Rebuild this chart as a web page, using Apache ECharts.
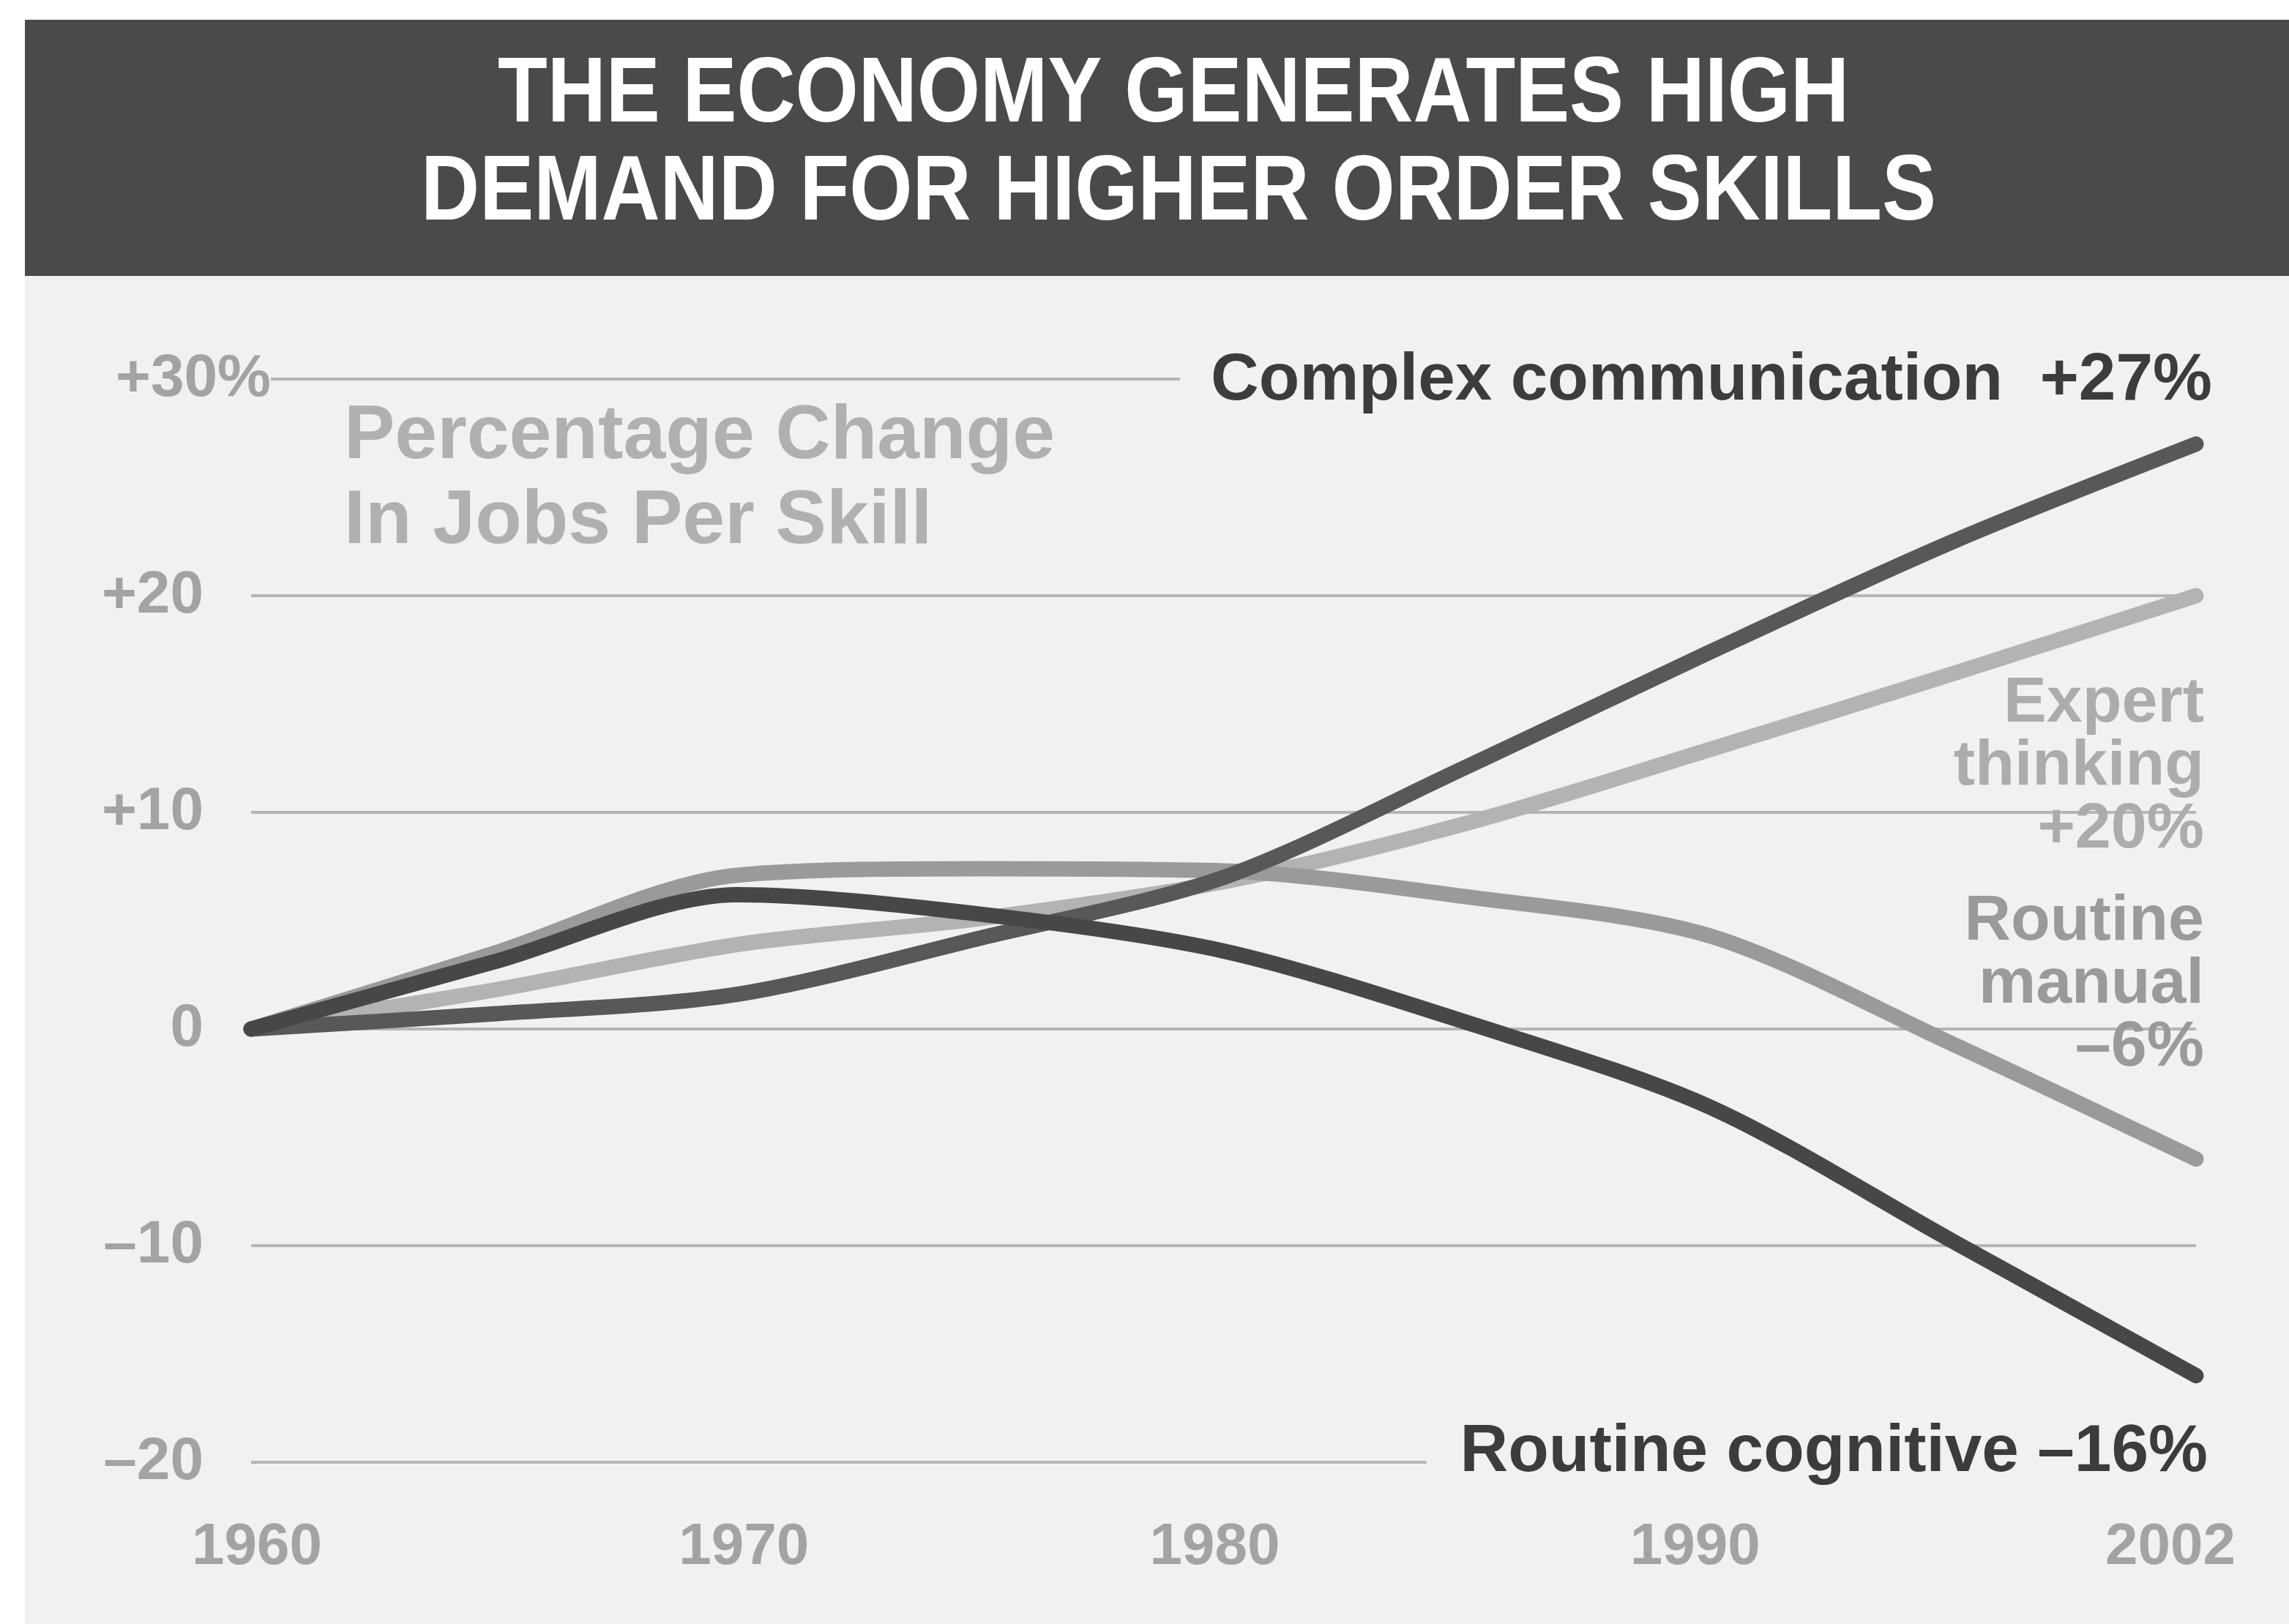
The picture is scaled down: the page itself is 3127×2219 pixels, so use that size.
<!DOCTYPE html>
<html>
<head>
<meta charset="utf-8">
<script src="https://cdn.jsdelivr.net/npm/echarts@6/dist/echarts.min.js"></script>
<style>
  html, body { margin: 0; padding: 0; background: #ffffff; }
  #chart { width: 3127px; height: 2219px; }
</style>
</head>
<body>
<div id="chart"></div>
<script>
// Half-decade sample points; only the decade years (and 2002) carry tick labels.
const years = ['1960', '1965', '1970', '1975', '1980', '1985', '1990', '1996', '2002'];
const labelledYears = ['1960', '1970', '1980', '1990', '2002'];

// Percentage change in jobs per skill, relative to 1960.
const complexCommunication = [0, 0.7, 1.6, 4.2, 7.0, 12.1, 17.4, 22.5, 27];
const expertThinking       = [0, 1.8, 3.9, 5.1, 6.8, 9.5, 12.9, 16.4, 20];
const routineManual        = [0, 3.5, 7.1, 7.4, 7.3, 6.1, 4.3, -0.7, -6];
const routineCognitive     = [0, 3.1, 6.2, 5.3, 3.6, 0.3, -3.6, -9.8, -16];

const yTicks = [-20, -10, 0, 10, 20, 30];
const yTickLabels = ['–20', '–10', '0', '+10', '+20', '+30%'];

const titleLines = ['THE ECONOMY GENERATES HIGH', 'DEMAND FOR HIGHER ORDER SKILLS'];
const subtitle = 'Percentage Change\nIn Jobs Per Skill';

const last = arr => arr[arr.length - 1];
const signed = v => (v > 0 ? '+' : v < 0 ? '–' : '') + Math.abs(v);

const FONT = '"Liberation Sans", Arial, sans-serif';
const PAGE_BG = '#f1f1f1';
const C_CC = '#585858', C_RC = '#474747', C_RM = '#9a9a9a', C_ET = '#b3b3b3';
const TICK_GREY = '#a3a3a3';

const chart = echarts.init(document.getElementById('chart'), null, { renderer: 'canvas' });

// small horizontal nudges for the year labels under the axis
const yearPad = {
  '1960': [0, 0, 0, 16], '1970': [0, 0, 0, 18], '1980': [0, 24, 0, 0],
  '1990': [0, 40, 0, 0], '2002': [0, 70, 0, 0]
};
const yearRich = {};
labelledYears.forEach((y, i) => { yearRich['y' + i] = { padding: yearPad[y] }; });

function lineSeries(name, data, color, z) {
  return {
    name, type: 'line', data, z,
    smooth: 0.3, symbol: 'none', silent: true,
    lineStyle: { color, width: 21, cap: 'round', join: 'round' },
    emphasis: { disabled: true }
  };
}

const tickFont = { fontFamily: FONT, fontWeight: 'bold', fontSize: 82, color: TICK_GREY };

chart.setOption({
  animation: false,
  backgroundColor: PAGE_BG,
  grid: { left: 343, right: 116, top: 518, bottom: 221, containLabel: false },
  xAxis: {
    type: 'category',
    data: years,
    boundaryGap: false,
    axisLine: { show: false },
    axisTick: { show: false },
    splitLine: { show: false },
    axisLabel: {
      interval: (idx, val) => labelledYears.includes(val),
      formatter: (val) => '{y' + labelledYears.indexOf(val) + '|' + val + '}',
      rich: yearRich,
      color: TICK_GREY,
      fontFamily: FONT, fontWeight: 'bold', fontSize: 80, lineHeight: 80,
      margin: 77
    }
  },
  yAxis: {
    type: 'value',
    min: -20, max: 30, interval: 10,
    axisLine: { show: false },
    axisTick: { show: false },
    splitLine: { lineStyle: { color: '#b5b5b5', width: 4, type: 'solid' } },
    axisLabel: {
      align: 'right',
      margin: -27,
      ...tickFont,
      // plain numbers end in a blank fixed-width slot; the top label carries its '%'
      // and hides the start of its grid line behind a page-coloured box
      formatter: (v) => {
        const s = yTickLabels[yTicks.indexOf(v)];
        if (s.endsWith('%')) return '{p|' + s + '}';
        return '{n|' + s + '}{q| }';
      },
      rich: {
        n: { ...tickFont },
        p: { ...tickFont, backgroundColor: PAGE_BG, padding: [0, 0, 0, 0] },
        q: { ...tickFont, width: 92 }
      }
    }
  },
  series: [
    lineSeries('Expert thinking', expertThinking, C_ET, 2),
    lineSeries('Routine manual', routineManual, C_RM, 3),
    lineSeries('Complex communication', complexCommunication, C_CC, 4),
    lineSeries('Routine cognitive', routineCognitive, C_RC, 5)
  ],
  graphic: [
    // white margin strips and the title banner
    { type: 'rect', z: 100, silent: true, shape: { x: 0, y: 0, width: 3127, height: 27 }, style: { fill: '#ffffff' } },
    { type: 'rect', z: 100, silent: true, shape: { x: 0, y: 0, width: 34, height: 2219 }, style: { fill: '#ffffff' } },
    { type: 'rect', z: 100, silent: true, shape: { x: 34, y: 27, width: 3093, height: 350 }, style: { fill: '#4a4a4a' } },
    {
      type: 'text', z: 101, silent: true, x: 1603, y: 131, scaleX: 0.88,
      style: { text: titleLines[0], x: 0, y: 0, align: 'center', verticalAlign: 'middle',
               fill: '#ffffff', font: 'bold 126px ' + FONT }
    },
    {
      type: 'text', z: 101, silent: true, x: 1610, y: 265, scaleX: 0.88,
      style: { text: titleLines[1], x: 0, y: 0, align: 'center', verticalAlign: 'middle',
               fill: '#ffffff', font: 'bold 126px ' + FONT }
    },
    // panel heading
    {
      type: 'text', z: 101, silent: true, x: 470, y: 539,
      style: { text: subtitle, align: 'left', verticalAlign: 'top', lineHeight: 116,
               fill: '#b0b0b0', font: 'bold 104px ' + FONT }
    },
    // series labels
    {
      type: 'text', z: 101, silent: true, x: 3022, y: 521,
      style: { text: 'Complex communication  ' + signed(last(complexCommunication)) + '%',
               align: 'right', verticalAlign: 'middle', padding: [0, 0, 0, 42],
               backgroundColor: PAGE_BG, fill: '#3c3c3c', font: 'bold 91px ' + FONT }
    },
    {
      type: 'text', z: 101, silent: true, x: 3016, y: 1985,
      style: { text: 'Routine cognitive ' + signed(last(routineCognitive)) + '%',
               align: 'right', verticalAlign: 'middle', padding: [0, 0, 0, 46],
               backgroundColor: PAGE_BG, fill: '#3c3c3c', font: 'bold 91px ' + FONT }
    },
    {
      type: 'text', z: 101, silent: true, x: 3011, y: 919,
      style: { text: 'Expert\nthinking\n' + signed(last(expertThinking)) + '%',
               align: 'right', verticalAlign: 'top', lineHeight: 86,
               fill: '#acacac', font: 'bold 88px ' + FONT }
    },
    {
      type: 'text', z: 101, silent: true, x: 3011, y: 1217,
      style: { text: 'Routine\nmanual\n' + signed(last(routineManual)) + '%',
               align: 'right', verticalAlign: 'top', lineHeight: 86,
               fill: '#9a9a9a', font: 'bold 88px ' + FONT }
    }
  ]
});
</script>
</body>
</html>
